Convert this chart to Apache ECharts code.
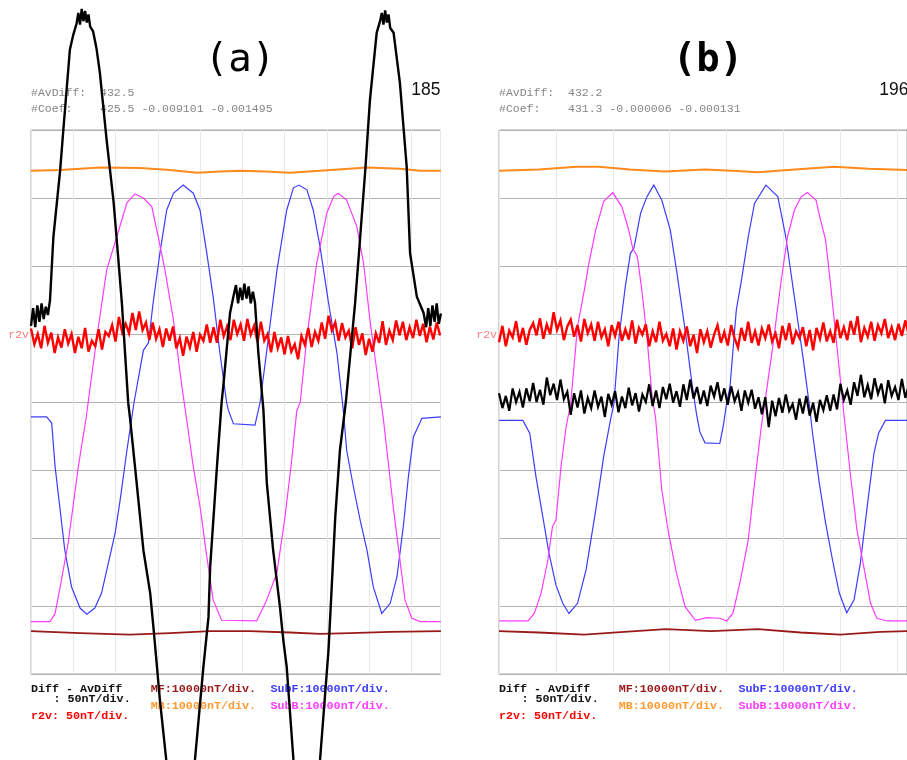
<!DOCTYPE html>
<html>
<head>
<meta charset="utf-8">
<title>Diff - AvDiff (a) (b)</title>
<script src="https://cdn.jsdelivr.net/npm/echarts@6.0.0/dist/echarts.min.js"></script>
<style>
body { margin: 0; background: #fff; }
#chart { width: 907px; height: 760px; }
</style>
</head>
<body>
<div id="chart"></div>
<script>
// x = time in grid divisions, y = vertical divisions (8 per panel, 0 at bottom)
const X_MAX_A = 9.69;
const X_MAX_B = 7.17;

// ---- panel (a) ----
const mbA = [[0,7.40],[0.69,7.41],[1.63,7.45],[2.58,7.44],[3.29,7.41],[3.93,7.37],[4.47,7.39],[4.95,7.40],[5.54,7.39],[6.13,7.37],[6.84,7.40],[7.95,7.45],[8.73,7.43],[9.21,7.40],[9.70,7.40]];
const mfA = [[0,0.63],[1.16,0.60],[2.34,0.58],[3.29,0.60],[4.24,0.63],[5.18,0.63],[6.13,0.61],[6.84,0.59],[7.55,0.60],[8.50,0.62],[9.70,0.63]];
const subFA = [[0,3.78],[0.37,3.78],[0.49,3.69],[0.57,3.05],[0.69,2.41],[0.80,1.82],[0.96,1.28],[1.16,0.97],[1.32,0.88],[1.51,0.97],[1.67,1.19],[1.83,1.63],[1.99,2.07],[2.11,2.56],[2.27,3.29],[2.44,4.00],[2.66,4.76],[2.78,4.87],[2.89,5.46],[3.05,6.19],[3.21,6.82],[3.37,7.07],[3.60,7.19],[3.84,7.07],[4.00,6.82],[4.16,6.19],[4.31,5.55],[4.47,4.72],[4.63,3.99],[4.67,3.88],[4.79,3.68],[5.30,3.66],[5.38,3.88],[5.42,3.99],[5.58,4.76],[5.82,5.94],[6.05,6.82],[6.21,7.15],[6.34,7.19],[6.53,7.12],[6.68,6.82],[6.84,6.28],[7.04,5.46],[7.24,4.72],[7.39,3.88],[7.47,3.29],[7.63,2.75],[7.79,2.26],[7.95,1.82],[8.10,1.28],[8.30,0.89],[8.50,1.04],[8.66,1.43],[8.81,2.17],[8.93,2.90],[9.05,3.49],[9.25,3.76],[9.70,3.78]];
const subBA = [[0,0.77],[0.45,0.77],[0.57,0.89],[0.69,1.28],[0.88,1.93],[1.12,3.05],[1.30,3.75],[1.56,4.96],[1.79,5.94],[2.03,6.43],[2.27,6.93],[2.46,7.06],[2.66,7.00],[2.86,6.87],[3.01,6.43],[3.17,5.94],[3.37,5.21],[3.57,4.23],[3.64,3.93],[3.84,3.05],[4.00,2.46],[4.16,1.73],[4.31,1.09],[4.51,0.79],[5.34,0.78],[5.58,1.09],[5.82,1.49],[6.01,2.31],[6.17,3.15],[6.29,3.88],[6.37,3.99],[6.53,4.96],[6.76,6.04],[7.00,6.78],[7.16,7.02],[7.27,7.07],[7.47,6.97],[7.71,6.58],[7.87,6.04],[8.02,5.21],[8.18,4.47],[8.34,3.74],[8.58,2.41],[8.73,1.68],[8.85,1.09],[9.01,0.82],[9.21,0.77],[9.70,0.77]];
// r2v samples every 0.08 div
const R2V_STEP_A = 0.08;
const r2vA = [5.08,4.85,5.00,4.79,5.12,4.87,5.02,4.72,4.95,4.80,5.07,4.86,5.00,4.72,4.96,4.79,5.09,4.74,4.90,4.82,
  5.07,4.77,5.03,4.97,5.13,4.89,5.25,5.02,5.15,5.01,5.31,5.06,5.33,5.06,5.17,4.91,5.17,4.93,5.07,4.81,
  5.08,4.90,5.11,4.79,4.94,4.68,4.96,4.80,5.03,4.74,4.99,4.90,5.14,4.87,5.10,4.87,5.21,4.97,5.11,4.91,
  5.21,5.00,5.14,4.90,5.22,4.99,5.12,4.88,5.18,4.90,5.00,4.73,5.03,4.79,4.95,4.70,4.97,4.74,4.85,4.63,
  4.97,4.84,5.09,4.81,5.03,4.90,5.17,4.93,5.27,5.05,5.17,4.90,5.16,4.95,5.05,4.79,5.10,4.84,5.01,4.69,
  4.93,4.74,5.01,4.87,5.19,4.84,5.05,4.91,5.20,4.98,5.18,4.91,5.10,4.94,5.21,4.97,5.15,4.88,5.11,4.92,
  5.17,4.98];
const diffA = [[0,5.12],[0.05,5.38],[0.1,5.10],[0.15,5.42],[0.2,5.18],[0.25,5.45],[0.3,5.22],[0.35,5.40],[0.4,5.28],[0.45,5.50],
  [0.53,6.43],[0.69,7.41],[0.76,7.96],[0.92,9.18],[1.0,9.40],[1.08,9.57],[1.12,9.72],[1.16,9.55],[1.2,9.78],[1.24,9.60],[1.28,9.75],[1.32,9.58],[1.36,9.70],[1.40,9.52],[1.47,9.45],[1.55,9.20],[1.63,8.84],
  [1.79,7.85],[1.95,6.97],[1.99,6.68],[2.15,5.46],[2.30,3.99],[2.34,3.78],[2.50,2.81],[2.66,1.82],[2.82,1.19],[2.91,0.60],[3.05,-0.38],[3.20,-1.26],[3.53,-2.30],[3.88,-1.26],
  [4.08,0.11],[4.20,0.84],[4.24,1.58],[4.40,3.05],[4.51,3.99],[4.55,4.23],[4.71,5.31],[4.79,5.55],[4.85,5.72],[4.9,5.45],[4.95,5.68],[5.0,5.50],[5.05,5.74],[5.1,5.52],[5.15,5.70],[5.2,5.45],[5.25,5.62],[5.30,5.46],
  [5.38,4.72],[5.50,3.88],[5.58,2.81],[5.73,1.82],[5.89,0.99],[5.97,0.50],[6.05,0.11],[6.21,-1.26],[6.55,-2.30],[6.84,-1.26],
  [7.04,0.35],[7.20,2.31],[7.31,3.29],[7.45,4.00],[7.67,5.46],[7.79,6.43],[7.91,7.41],[8.02,8.44],[8.18,9.43],[8.26,9.60],[8.3,9.72],[8.34,9.55],[8.38,9.76],[8.42,9.58],[8.46,9.70],[8.50,9.50],[8.58,9.43],
  [8.73,8.69],[8.89,7.46],[8.97,6.19],[9.13,5.55],[9.29,5.31],[9.35,5.10],[9.4,5.38],[9.45,5.12],[9.5,5.42],[9.55,5.18],[9.6,5.45],[9.65,5.15],[9.70,5.30]];

// ---- panel (b) ----
const mbB = [[0,7.40],[0.7,7.42],[1.36,7.46],[1.76,7.46],[2.3,7.42],[2.92,7.39],[3.62,7.42],[4.1,7.40],[4.55,7.38],[5.2,7.42],[5.89,7.46],[6.5,7.43],[7.2,7.41]];
const mfB = [[0,0.63],[0.7,0.61],[1.5,0.58],[2.2,0.62],[2.93,0.66],[3.73,0.63],[4.55,0.66],[5.3,0.61],[6.0,0.58],[6.7,0.62],[7.2,0.63]];
const subFB = [[0,3.73],[0.42,3.73],[0.54,3.54],[0.65,2.90],[0.77,2.31],[0.88,1.77],[1.00,1.31],[1.12,1.04],[1.23,0.89],[1.38,1.04],[1.53,1.53],[1.70,2.41],[1.84,3.20],[1.96,3.74],[2.02,3.98],[2.11,4.96],[2.22,5.70],[2.31,6.19],[2.37,6.26],[2.49,6.78],[2.60,7.02],[2.72,7.19],[2.86,6.97],[3.01,6.53],[3.12,5.94],[3.27,5.06],[3.39,4.28],[3.47,3.83],[3.53,3.56],[3.62,3.40],[3.88,3.39],[3.94,3.64],[4.00,3.98],[4.06,4.23],[4.17,5.35],[4.26,5.79],[4.38,6.43],[4.49,6.92],[4.69,7.19],[4.90,7.02],[5.04,6.43],[5.19,5.55],[5.34,4.67],[5.45,3.98],[5.51,3.54],[5.63,2.80],[5.74,2.22],[5.86,1.68],[5.98,1.19],[6.11,0.90],[6.24,1.09],[6.35,1.63],[6.50,2.66],[6.59,3.25],[6.67,3.54],[6.79,3.73],[7.2,3.73]];
const subBB = [[0,0.78],[0.51,0.78],[0.62,0.89],[0.74,1.19],[0.86,1.68],[0.94,2.17],[1.00,2.26],[1.09,3.05],[1.18,3.64],[1.26,3.98],[1.38,5.11],[1.50,5.65],[1.58,6.04],[1.70,6.53],[1.84,6.95],[2.00,7.08],[2.16,6.87],[2.28,6.53],[2.35,6.26],[2.43,6.14],[2.51,5.65],[2.60,4.96],[2.69,4.08],[2.75,3.78],[2.86,2.71],[2.98,2.07],[3.12,1.48],[3.27,0.99],[3.45,0.79],[3.65,0.83],[3.88,0.82],[4.00,0.78],[4.11,0.89],[4.23,1.33],[4.38,1.97],[4.49,2.80],[4.61,3.64],[4.67,3.98],[4.81,4.81],[4.96,5.79],[5.07,6.43],[5.19,6.82],[5.31,7.02],[5.42,7.08],[5.57,6.97],[5.65,6.68],[5.74,6.38],[5.83,5.70],[5.95,4.72],[6.06,3.83],[6.18,2.90],[6.29,2.12],[6.41,1.58],[6.53,1.04],[6.64,0.82],[6.82,0.78],[7.2,0.78]];
const R2V_STEP_B = 0.06;
const r2vB = [4.88,5.12,4.82,5.05,4.95,5.19,4.88,5.09,4.84,5.06,5.16,4.98,5.23,4.93,5.14,5.00,5.32,5.06,5.20,4.91,
  5.11,5.21,4.96,5.13,4.89,5.22,5.01,5.14,4.90,5.18,4.95,5.07,4.82,5.13,4.97,5.18,4.90,5.07,4.92,5.20,
  4.86,5.09,4.99,5.14,4.82,5.04,4.88,5.18,4.90,5.00,4.82,5.08,4.77,5.04,4.90,5.11,4.82,4.99,4.72,5.07,
  4.88,5.04,4.80,4.99,5.13,4.87,5.03,4.83,5.13,4.94,4.80,5.09,4.90,5.18,4.87,5.04,4.83,5.08,4.94,5.14,
  4.89,5.01,4.79,5.12,4.91,5.16,4.85,5.04,4.94,5.10,4.82,5.06,4.76,5.09,4.93,5.17,4.89,5.04,4.87,5.21,
  4.94,5.10,4.91,5.19,4.99,5.26,4.88,5.09,4.96,5.18,4.90,5.13,5.01,5.22,4.94,5.10,4.91,5.15,4.97,5.20,
  5.00];
const DIFF_STEP_B = 0.06;
const diffB = [4.13,3.91,4.09,3.87,4.20,4.00,4.15,3.92,4.20,4.01,4.28,4.00,4.18,3.96,4.36,4.10,4.27,4.03,4.33,4.04,
  4.15,3.81,4.13,3.92,4.17,3.83,4.06,3.91,4.17,3.93,4.08,3.78,4.12,3.96,4.16,3.85,4.08,3.91,4.21,3.95,
  4.13,3.86,4.11,4.00,4.26,3.94,4.17,3.91,4.22,4.04,4.27,3.99,4.16,3.93,4.26,4.03,4.33,4.05,4.22,3.97,
  4.17,3.94,4.24,4.08,4.29,4.01,4.20,3.96,4.23,4.01,4.14,3.87,4.17,3.99,4.18,3.90,4.07,3.82,4.07,3.63,
  4.02,3.79,4.06,3.84,4.11,3.87,3.97,3.74,4.05,3.83,4.09,3.80,3.99,3.71,4.03,3.88,4.10,3.87,4.11,3.89,
  4.27,4.03,4.17,3.96,4.29,4.09,4.40,4.07,4.25,4.04,4.35,4.12,4.27,3.98,4.32,4.09,4.22,4.03,4.34,4.06,
  4.24];

// header numbers
const avDiff = ['432.5', '432.2'];
const coef = [['425.5', '-0.009101', '-0.001495'], ['431.3', '-0.000006', '-0.000131']];
const frameNo = ['185', '196'];
const panelTitle = ['(a)', '(b)'];

const C_MB = '#ff8a1c', C_MF = '#9a1a1a', C_SUBF = '#3c3cff', C_SUBB = '#ff3cff', C_R2V = '#ff0000', C_DIFF = '#000000';

function sampled(vals, step) {
    return vals.map(function (v, i) { return [+(i * step).toFixed(3), v]; });
}

function line(name, idx, data, color, width, clip) {
    return {
        name: name, type: 'line', xAxisIndex: idx, yAxisIndex: idx,
        data: data, symbol: 'none', showSymbol: false, silent: true,
        clip: clip !== false, animation: false,
        lineStyle: { color: color, width: width, join: 'miter', miterLimit: 4 }
    };
}

function xAx(idx, max) {
    return {
        gridIndex: idx, type: 'value', min: 0, max: max, interval: 1,
        axisLabel: { show: false }, axisTick: { show: false }, axisLine: { show: false },
        splitLine: { show: true, lineStyle: { color: '#e8e8e8', width: 1 } }
    };
}
function yAx(idx) {
    return {
        gridIndex: idx, type: 'value', min: 0, max: 8, interval: 1,
        axisLabel: { show: false }, axisTick: { show: false }, axisLine: { show: false },
        splitLine: { show: true, lineStyle: { color: '#b2b2b2', width: 1 } }
    };
}

const MONO = '"Liberation Mono", "DejaVu Sans Mono", monospace';
function txt(x, y, s, color, font, align) {
    return {
        type: 'text', x: x, y: y, silent: true,
        style: { text: s, fill: color, font: font, align: align || 'left', verticalAlign: 'middle' }
    };
}

// texts for each panel, offset by its left edge
const panelLeft = [31, 499];
let texts = [];
for (let p = 0; p < 2; p++) {
    const L = panelLeft[p];
    const hdr = '11.5px ' + MONO;
    const leg = 'bold 11.7px ' + MONO;
    texts.push(txt(L + 209, 61, panelTitle[p], '#000', (p == 1 ? 'bold ' : '') + '39px "DejaVu Sans Mono"', 'center'));
    texts.push(txt(L, 92.5, '#AvDiff:  ' + avDiff[p], '#858585', hdr));
    texts.push(txt(L, 109, '#Coef:    ' + coef[p].join(' '), '#858585', hdr));
    texts.push(txt(L + 409.5, 90.5, frameNo[p], '#111', '17.5px "Liberation Sans", Arial, sans-serif', 'right'));
    texts.push(txt(L - 2, 335, 'r2v', '#ff7c7c', '11.5px ' + MONO, 'right'));
    texts.push(txt(L, 689, 'Diff - AvDiff', '#111', leg));
    texts.push(txt(L + 22.5, 699, ': 50nT/div.', '#111', leg));
    texts.push(txt(L, 716.5, 'r2v: 50nT/div.', C_R2V, leg));
    texts.push(txt(L + 119.8, 689, 'MF:10000nT/div.', C_MF, leg));
    texts.push(txt(L + 119.8, 706.5, 'MB:10000nT/div.', '#ff9a30', leg));
    texts.push(txt(L + 239.5, 689, 'SubF:10000nT/div.', C_SUBF, leg));
    texts.push(txt(L + 239.5, 706.5, 'SubB:10000nT/div.', C_SUBB, leg));
}

const chart = echarts.init(document.getElementById('chart'));
chart.setOption({
    animation: false,
    backgroundColor: '#fff',
    grid: [
        { left: 31, top: 130, width: 409.5, height: 544, show: true, borderColor: '#ababab', borderWidth: 1, backgroundColor: 'transparent' },
        { left: 499, top: 130, width: 411, height: 544, show: true, borderColor: '#ababab', borderWidth: 1, backgroundColor: 'transparent' }
    ],
    xAxis: [xAx(0, X_MAX_A), xAx(1, X_MAX_B)],
    yAxis: [yAx(0), yAx(1)],
    series: [
        line('MF', 0, mfA, C_MF, 1.8),
        line('MB', 0, mbA, C_MB, 2),
        line('SubF', 0, subFA, C_SUBF, 1.2),
        line('SubB', 0, subBA, C_SUBB, 1.2),
        line('r2v', 0, sampled(r2vA, R2V_STEP_A), C_R2V, 2.4),
        line('Diff - AvDiff', 0, diffA, C_DIFF, 2.4, false),

        line('MF', 1, mfB, C_MF, 1.8),
        line('MB', 1, mbB, C_MB, 2),
        line('SubF', 1, subFB, C_SUBF, 1.2),
        line('SubB', 1, subBB, C_SUBB, 1.2),
        line('r2v', 1, sampled(r2vB, R2V_STEP_B), C_R2V, 2.4),
        line('Diff - AvDiff', 1, sampled(diffB, DIFF_STEP_B), C_DIFF, 2.2)
    ],
    graphic: { elements: texts }
});
</script>
</body>
</html>
